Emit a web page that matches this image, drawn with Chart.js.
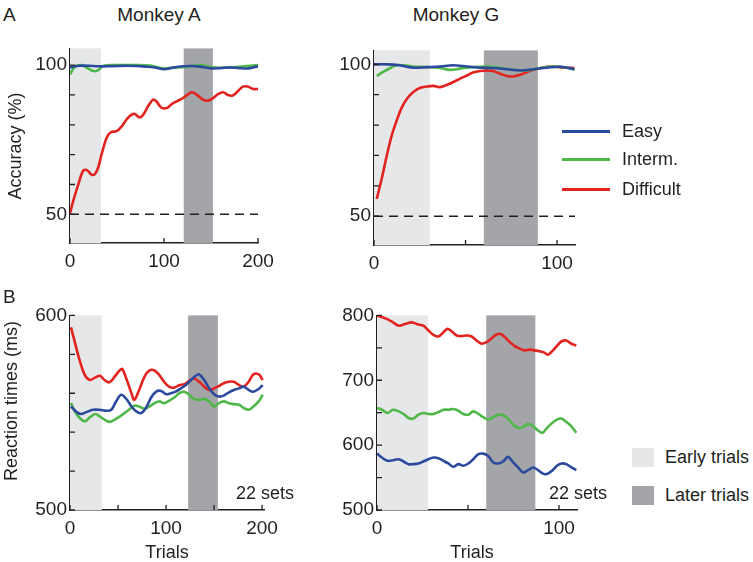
<!DOCTYPE html>
<html>
<head>
<meta charset="utf-8">
<script src="https://cdn.jsdelivr.net/npm/chart.js@4.4.1/dist/chart.umd.min.js"></script>
<style>
  body { margin:0; width:753px; height:562px; position:relative; background:#fff; overflow:hidden;
         font-family:"Liberation Sans", Arial, sans-serif; color:#231f20; }
  canvas { position:absolute; }
  .t { position:absolute; font-size:19px; line-height:19px; white-space:nowrap; }
  .s { position:absolute; font-size:18px; line-height:18px; white-space:nowrap; }
  .rot { position:absolute; font-size:18px; line-height:18px; white-space:nowrap; transform:translate(-50%,-50%) rotate(-90deg); }
  .ln { position:absolute; height:3px; width:48px; }
  .sw { position:absolute; width:22px; height:19px; }
</style>
</head>
<body>
<canvas id="accA"></canvas>
<canvas id="accG"></canvas>
<canvas id="rtA"></canvas>
<canvas id="rtG"></canvas>

<div class="t" style="left:3px;top:5px">A</div>
<div class="t" style="left:3px;top:287px">B</div>
<div class="t" style="left:99px;top:5px;width:120px;text-align:center">Monkey A</div>
<div class="t" style="left:396px;top:5px;width:120px;text-align:center">Monkey G</div>
<div class="rot" style="left:15px;top:146px">Accuracy (%)</div>
<div class="rot" style="left:11px;top:401px">Reaction times (ms)</div>
<div class="s" style="left:127px;top:543px;width:80px;text-align:center">Trials</div>
<div class="s" style="left:432px;top:543px;width:80px;text-align:center">Trials</div>
<div class="s" style="left:236px;top:484px">22 sets</div>
<div class="s" style="left:549px;top:484px">22 sets</div>

<div id="legend"></div>

<script>
// colours
const ink = '#231f20';
const cEasy = '#2b4a9e', cInterm = '#4fb848', cDiff = '#e2231f';
const cEarly = '#e6e7e9', cLater = '#a4a5a9';

// ---- Monkey A accuracy (%) ----
const accA_easy_t = [0, 5, 10, 20, 30, 40, 50, 60, 70, 80, 90, 100, 110, 120, 130, 140, 150, 160, 170, 180, 190, 200];
const accA_easy   = [99.2, 99.6, 99.8, 99.8, 99.6, 99.6, 99.7, 99.8, 99.7, 99.5, 99.2, 98.6, 99.2, 99.6, 99.7, 99.4, 98.9, 99.0, 99.2, 99.0, 98.9, 99.6];
const accA_int_t  = [0, 5, 12, 18, 25, 30, 35, 46, 60, 74, 88, 99, 110, 124, 138, 149, 159, 173, 188, 200];
const accA_int    = [96.9, 99.4, 100, 99.1, 98.0, 98.3, 99.7, 100, 100, 100, 99.7, 98.9, 99.1, 99.4, 100, 99.4, 99.1, 99.3, 99.7, 100];
const accA_diff_t = [0, 3.5, 9, 14, 18, 23, 26.5, 30, 33.6, 39, 43.5, 49.6, 55, 60, 65.5, 69, 74, 78, 83, 88.5, 92, 97, 103, 108, 113, 120, 126, 130, 136, 141.6, 147, 152, 157.5, 163, 168, 173, 179, 184, 189, 195, 200];
const accA_diff   = [50.4, 54.6, 60.2, 64.6, 64.8, 63.3, 63.5, 65.7, 70.1, 75.7, 77.5, 77.9, 79.5, 81.7, 83.4, 83.6, 82.5, 83.4, 86.2, 88.4, 87.8, 85.8, 85.6, 86.9, 87.8, 88.9, 90.3, 90.9, 89.8, 88.4, 88.1, 88.9, 90.3, 90.9, 90.0, 89.8, 91.4, 92.8, 92.8, 92.0, 92.0];

// ---- Monkey G accuracy (%) ----
const accG_easy_t = [0, 7, 14, 21.5, 29, 36, 43, 51, 58, 65, 72.6, 80, 87, 94.5, 102, 109.5];
const accG_easy   = [100, 100, 99.7, 98.9, 99.1, 99.3, 99.7, 99.3, 98.9, 98.8, 98.4, 98.0, 98.4, 98.9, 99.2, 98.4];
const accG_int_t  = [1.5, 5, 9, 12.4, 16, 21.5, 29, 36, 41.6, 47, 54, 62, 69, 76, 83.6, 91, 98, 105.5, 109.5];
const accG_int    = [96.2, 97.5, 98.8, 99.7, 99.7, 99.3, 99.1, 98.8, 98.2, 98.6, 99.1, 99.3, 98.9, 98.2, 98.0, 98.8, 99.3, 98.9, 98.2];
const accG_diff_t = [1.5, 4.2, 7, 9.7, 12.4, 15, 18, 21.5, 25, 29, 32.5, 36, 40, 43.4, 47, 51, 54, 58, 62, 65, 69, 72.6, 76, 80, 83.6, 87, 91, 94.5, 98, 102, 105.5, 109.5];
const accG_diff   = [55.7, 62.3, 70.0, 76.6, 81.5, 85.6, 88.7, 90.9, 92.2, 92.7, 92.9, 92.5, 93.3, 94.2, 95.3, 96.4, 97.3, 97.8, 98.0, 97.8, 96.9, 96.2, 96.0, 96.6, 97.5, 98.2, 98.8, 99.2, 99.3, 99.0, 98.9, 98.8];

// ---- Monkey A reaction times (ms) ----
const rtA_t = [1, 5, 10, 15.5, 20.7, 26, 31, 36, 41, 46.5, 52, 54.5, 58.6, 64, 67, 72, 77.6, 82.8, 88, 93, 98, 103, 108.6, 114, 119, 124, 129, 134.5, 139.7, 145, 150, 155, 160, 165.5, 170.7, 176, 181, 186, 191, 196.5, 200.7];
const rtA_diff = [593.9, 586.3, 577.0, 569.3, 566.8, 568.0, 569.0, 566.8, 565.6, 568.5, 571.9, 572.4, 567.6, 560.0, 556.6, 561.7, 568.5, 571.7, 571.7, 569.3, 565.9, 563.4, 562.9, 564.2, 564.6, 566.3, 567.6, 565.9, 563.4, 561.7, 562.5, 563.7, 565.1, 565.9, 565.9, 564.2, 563.4, 565.9, 569.7, 569.7, 566.8];
const rtA_int  = [554.9, 550.7, 547.3, 545.6, 547.6, 549.3, 548.1, 546.4, 545.3, 546.4, 548.1, 549.0, 550.5, 552.5, 553.6, 553.2, 552.0, 553.2, 554.9, 555.8, 554.9, 556.1, 557.8, 560.0, 560.8, 559.2, 557.1, 556.6, 557.1, 555.8, 553.2, 554.9, 555.8, 554.9, 554.4, 554.1, 552.4, 551.5, 553.2, 555.8, 559.2];
const rtA_easy_t = [1, 7, 12, 17, 24, 31, 38, 43, 48, 53.4, 58.6, 64, 69, 74, 79, 84.5, 89.7, 95, 100, 105, 110, 115.5, 120.7, 126, 131, 134.5, 139.7, 145, 150, 155, 160, 165.5, 170.7, 176, 181, 186, 191, 196.5, 200.7];
const rtA_easy   = [553.2, 550.3, 549.3, 550.3, 551.5, 551.5, 551.0, 551.5, 555.8, 559.2, 557.1, 553.2, 550.7, 549.8, 552.4, 557.8, 560.8, 561.2, 559.5, 560.0, 560.8, 562.5, 564.2, 566.8, 569.0, 569.7, 566.8, 562.5, 559.5, 558.3, 558.8, 560.5, 561.7, 562.5, 563.4, 561.7, 560.8, 562.2, 564.2];

// ---- Monkey G reaction times (ms) ----
const rtG_diff_t = [0, 4.6, 8.2, 11.9, 15.5, 19.2, 22.8, 25.5, 28.3, 31, 33.8, 36.5, 38.7, 41, 43.8, 46.5, 49.3, 52, 54.7, 57.5, 60.2, 63, 65.7, 68, 70.3, 73, 75.7, 78.5, 81.2, 84, 86.7, 89.4, 92, 94, 96.7, 99.5, 101.3, 104, 106.8, 109.5];
const rtG_diff   = [799.5, 795.4, 790.3, 784.2, 786.8, 789.3, 785.8, 784.2, 776.6, 770.0, 767.5, 774.1, 779.2, 775.6, 769.0, 768.0, 769.0, 767.5, 761.4, 756.3, 758.8, 764.9, 770.5, 771.5, 766.4, 758.8, 752.7, 748.7, 746.1, 747.2, 746.1, 744.6, 742.6, 739.5, 746.1, 754.8, 759.8, 761.4, 756.3, 753.7];
const rtG_t = [0, 2.7, 5.8, 8.8, 11.9, 14.6, 17.3, 20, 22.8, 25.5, 28.3, 31, 33.8, 36.5, 39.2, 42, 44.7, 47.4, 50.2, 52.9, 55.7, 58.4, 61.1, 63.9, 66.6, 69.3, 72, 74.8, 77.6, 80.3, 83, 85.8, 88.5, 90.9, 93.4, 96.2, 98.9, 101.3, 104, 106.8, 109.5];
const rtG_int  = [657.1, 654.6, 649.5, 654.6, 652.0, 648.0, 641.9, 640.9, 647.0, 649.5, 648.0, 648.0, 651.0, 654.6, 654.6, 655.6, 653.0, 648.0, 647.0, 652.0, 648.0, 643.0, 639.4, 643.0, 647.0, 646.0, 640.9, 631.7, 626.6, 627.7, 632.7, 629.1, 622.6, 619.0, 626.6, 634.3, 639.4, 640.9, 635.8, 629.1, 619.0];
const rtG_easy = [586.9, 580.9, 575.8, 576.8, 578.3, 574.8, 570.7, 570.7, 571.7, 574.8, 578.3, 580.9, 579.9, 575.8, 571.7, 566.6, 570.7, 568.2, 571.7, 578.3, 586.0, 586.9, 583.4, 573.3, 571.7, 574.8, 581.9, 573.3, 565.6, 558.0, 561.5, 565.6, 561.5, 556.4, 555.5, 560.5, 568.2, 571.7, 570.7, 565.6, 561.5];

// trial windows (early / later) per monkey and panel
const accA_early = [0, 33],  accA_later = [121, 152];
const accG_early = [0, 30.5], accG_later = [60, 89.5];
const rtA_early  = [0, 33],  rtA_later  = [123, 154];
const rtG_early  = [0, 28],  rtG_later  = [60, 87];

// chance level
const chance_t = [0, 200], chance = [50, 50];

const zip = (xs, ys) => xs.map((x, i) => ({ x: x, y: ys[i] }));

function line(label, xs, ys, color) {
  return { label, data: zip(xs, ys), borderColor: color, borderWidth: 2.6, pointRadius: 0, tension: 0.35, fill: false };
}
function dashed(xs, ys) {
  return { label: 'chance', data: zip(xs, ys), borderColor: ink, borderWidth: 1.5, borderDash: [9, 6], pointRadius: 0, fill: false };
}

function makePanel(id, area, xr, yr, xt, xl, yt, yl, early, later, datasets) {
  const cv = document.getElementById(id);
  const w = area.r - area.l + 90, h = area.b - area.t + 52;
  cv.width = w; cv.height = h;
  cv.style.left = (area.l - 60) + 'px';
  cv.style.top = (area.t - 12) + 'px';

  const bands = {
    id: 'bands',
    beforeDatasetsDraw(chart) {
      const { ctx, chartArea: a, scales: { x } } = chart;
      [[early, cEarly], [later, cLater]].forEach(([r, c]) => {
        const x0 = x.getPixelForValue(r[0]), x1 = x.getPixelForValue(r[1]);
        ctx.fillStyle = c;
        ctx.fillRect(x0, a.top, x1 - x0, a.bottom - a.top);
      });
    }
  };
  const inTicks = {
    id: 'inTicks',
    afterDraw(chart) {
      const { ctx, chartArea: a, scales: { x, y } } = chart;
      ctx.save();
      ctx.strokeStyle = ink; ctx.lineWidth = 1.3;
      ctx.beginPath();
      xt.forEach(v => { const p = x.getPixelForValue(v); ctx.moveTo(p, a.bottom); ctx.lineTo(p, a.bottom - 5); });
      yt.forEach(v => { const p = y.getPixelForValue(v); ctx.moveTo(a.left, p); ctx.lineTo(a.left + 5, p); });
      ctx.stroke();
      ctx.restore();
    }
  };

  const font = { family: '"Liberation Sans", Arial, sans-serif', size: 19 };
  new Chart(cv, {
    type: 'line',
    data: { datasets },
    options: {
      responsive: false,
      animation: false,
      layout: { padding: { left: 0, top: 12, right: 30, bottom: 0 } },
      plugins: { legend: { display: false }, tooltip: { enabled: false } },
      scales: {
        x: {
          type: 'linear', min: xr[0], max: xr[1],
          afterBuildTicks: s => { s.ticks = xt.map(v => ({ value: v })); },
          afterFit: s => { s.height = 40; },
          grid: { display: false, drawTicks: false },
          border: { display: true, color: ink, width: 1.5 },
          ticks: { color: ink, font, padding: 7, maxRotation: 0, autoSkip: false,
                   callback: v => xl.includes(v) ? String(v) : '' }
        },
        y: {
          type: 'linear', min: yr[0], max: yr[1],
          afterBuildTicks: s => { s.ticks = yt.map(v => ({ value: v })); },
          afterFit: s => { s.width = 60; },
          grid: { display: false, drawTicks: false },
          border: { display: true, color: ink, width: 1.5 },
          ticks: { color: ink, font, padding: 3, autoSkip: false,
                   callback: v => yl.includes(v) ? String(v) : '' }
        }
      }
    },
    plugins: [bands, inTicks]
  });
}

makePanel('accA', { l: 70, r: 258, t: 46, b: 243 }, [0, 200], [40.4, 105.6],
  [0, 100, 200], [0, 100, 200], [50, 60, 70, 80, 90, 100], [50, 100], accA_early, accA_later, [
    dashed(chance_t, chance),
    line('Easy', accA_easy_t, accA_easy, cEasy),
    line('Interm.', accA_int_t, accA_int, cInterm),
    line('Difficult', accA_diff_t, accA_diff, cDiff)
  ]);

makePanel('accG', { l: 374, r: 575, t: 48, b: 245 }, [0, 109.8], [40.5, 104.6],
  [0, 50, 100], [0, 100], [50, 60, 70, 80, 90, 100], [50, 100], accG_early, accG_later, [
    dashed(chance_t, chance),
    line('Easy', accG_easy_t, accG_easy, cEasy),
    line('Interm.', accG_int_t, accG_int, cInterm),
    line('Difficult', accG_diff_t, accG_diff, cDiff)
  ]);

makePanel('rtA', { l: 70, r: 264, t: 313, b: 510 }, [0, 202], [500, 600],
  [0, 50, 100, 150, 200], [0, 100, 200], [500, 520, 540, 560, 580, 600], [500, 600], rtA_early, rtA_later, [
    line('Easy', rtA_easy_t, rtA_easy, cEasy),
    line('Interm.', rtA_t, rtA_int, cInterm),
    line('Difficult', rtA_t, rtA_diff, cDiff)
  ]);

makePanel('rtG', { l: 377, r: 577, t: 313, b: 510 }, [0, 109.9], [500, 800],
  [0, 50, 100], [0, 100], [500, 550, 600, 650, 700, 750, 800], [500, 600, 700, 800], rtG_early, rtG_later, [
    line('Easy', rtG_t, rtG_easy, cEasy),
    line('Interm.', rtG_t, rtG_int, cInterm),
    line('Difficult', rtG_diff_t, rtG_diff, cDiff)
  ]);

// legends
const legend = document.getElementById('legend');
const lineItems = [['Easy', cEasy, 131], ['Interm.', cInterm, 159], ['Difficult', cDiff, 189]];
lineItems.forEach(([txt, c, y]) => {
  legend.innerHTML += `<div class="ln" style="left:562px;top:${y - 1}px;background:${c}"></div>` +
                      `<div class="s" style="left:622px;top:${y - 9}px">${txt}</div>`;
});
const bandItems = [['Early trials', cEarly, 457], ['Later trials', cLater, 495]];
bandItems.forEach(([txt, c, y]) => {
  legend.innerHTML += `<div class="sw" style="left:632px;top:${y - 9}px;background:${c}"></div>` +
                      `<div class="s" style="left:665px;top:${y - 9}px">${txt}</div>`;
});
</script>
</body>
</html>
